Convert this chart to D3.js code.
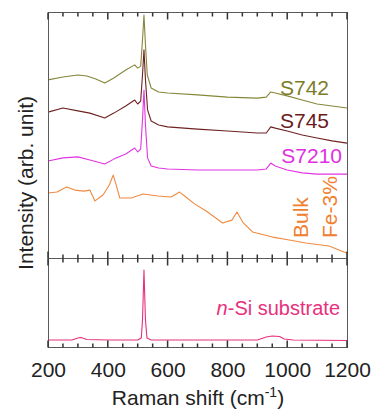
<!DOCTYPE html>
<html><head><meta charset="utf-8">
<script src="https://cdn.jsdelivr.net/npm/d3@7/dist/d3.min.js"></script>
<style>body{margin:0;background:#fff}svg{display:block;font-family:"Liberation Sans",Arial,sans-serif}</style>
</head><body><svg id="c" width="373" height="410"></svg>
<script>
// Raman shift (cm^-1) and intensity (arb. unit, offsets included)
const s742X = [200,250,300,330,360,390,420,460,490,500,510,516,521,526,532,545,570,600,700,800,900,930,945,960,1000,1050,1100,1150,1200];
const s742Y = [72.4,73.6,74.4,74.0,72.8,71.1,73.2,76.4,78.5,77.2,78.0,88.6,98.8,86.6,74.4,69.1,67.5,67.1,66.3,65.4,65.0,65.4,67.5,67.1,65.9,64.2,62.6,61.8,61.0];
const s745X = [200,250,300,340,390,420,460,490,500,510,516,521,526,533,545,570,600,700,800,900,930,945,960,1000,1050,1100,1150,1200];
const s745Y = [59.3,61.0,59.8,58.9,56.9,58.9,61.8,64.2,62.6,63.8,74.4,84.6,72.4,60.2,55.7,54.1,53.3,52.4,51.6,50.8,50.8,53.3,52.8,51.6,50.0,48.8,47.6,46.7];
const s7210X = [200,250,300,340,390,420,460,490,500,510,516,521,526,533,545,570,600,700,800,900,930,945,960,1000,1050,1100,1150,1200];
const s7210Y = [39.4,40.7,41.1,39.8,38.2,40.2,42.3,44.7,43.1,44.3,56.1,68.3,54.1,40.7,37.4,36.6,36.2,35.8,35.8,35.8,36.2,38.6,37.4,35.8,34.6,34.1,34.1,34.1];
const bulkX = [200,230,262,290,320,340,357,384,405,418,428,440,479,518,568,612,640,657,690,729,784,815,832,851,884,951,1007,1062,1140,1190,1200];
const bulkY = [26.4,26.8,28.9,27.6,27.2,27.6,23.2,25.6,29.7,33.7,29.7,24.4,24.4,26.0,25.2,24.8,26.8,25.2,22.0,19.1,14.2,15.4,18.7,14.6,10.6,8.5,7.3,6.1,4.9,2.4,2.0];
const siX = [200,280,300,310,330,400,500,512,516,521,526,531,545,900,930,950,975,990,1020,1200];
const siY = [7.9,7.9,10.1,10.7,8.4,7.9,7.9,10,30,86.5,30,10,7.9,7.9,11.2,12.4,11.8,9,7.9,7.3];
const majorTicks = [200,400,600,800,1000,1200];
const minorTicks = [250,300,350,450,500,550,650,700,750,850,900,950,1050,1100,1150];

const svg = d3.select("#c");
const L=48, R=347, T=12, MID=258, B=347;
const x = d3.scaleLinear().domain([200,1200]).range([L,R]);
const yTop = d3.scaleLinear().domain([0,100]).range([MID,T]);
const yBot = d3.scaleLinear().domain([0,100]).range([B,MID]);

const series = [
  {xs:s742X, ys:s742Y, y:yTop, c:"#86863a"},
  {xs:s745X, ys:s745Y, y:yTop, c:"#6e2222"},
  {xs:s7210X, ys:s7210Y, y:yTop, c:"#e234e2"},
  {xs:bulkX, ys:bulkY, y:yTop, c:"#f08a40"},
  {xs:siX, ys:siY, y:yBot, c:"#e8307c"}
];
series.forEach(s=>{
  const pts = s.xs.map((v,i)=>[v,s.ys[i]]);
  svg.append("path").attr("d", d3.line().x(d=>x(d[0])).y(d=>s.y(d[1]))(pts))
    .attr("fill","none").attr("stroke",s.c).attr("stroke-width",1.1).attr("stroke-linejoin","round");
});

// frame
const fc="#5a5a5a";
svg.append("rect").attr("x",L+0.5).attr("y",T+0.5).attr("width",R-L).attr("height",B-T).attr("fill","none").attr("stroke",fc);
svg.append("line").attr("x1",L).attr("x2",R).attr("y1",MID+0.5).attr("y2",MID+0.5).attr("stroke",fc);

// inward ticks on each horizontal edge
const edges = [[T,1],[MID,-1],[MID,1],[B,-1]];
edges.forEach(([yy,d])=>{
  [[majorTicks,7],[minorTicks,4]].forEach(([vals,len])=>{
    svg.append("g").selectAll("line").data(vals).join("line")
      .attr("x1",v=>x(v)).attr("x2",v=>x(v))
      .attr("y1",yy+0.5).attr("y2",yy+0.5+d*len)
      .attr("stroke","#333").attr("stroke-width",1.5);
  });
});

// tick labels
const lab = d3.axisBottom(x).tickValues(majorTicks).tickSize(0).tickPadding(0).tickFormat(d3.format("d"));
const gl = svg.append("g").attr("transform",`translate(0,${B})`).call(lab);
gl.select(".domain").remove();
gl.selectAll("text").attr("font-size",21).attr("fill","#222").attr("dy",null).attr("y",30)
  .attr("font-family","Liberation Sans, Arial, sans-serif");

// axis titles
const xt = svg.append("text").attr("x",198).attr("y",405).attr("text-anchor","middle")
  .attr("font-size",21).attr("fill","#222");
xt.append("tspan").text("Raman shift (cm");
xt.append("tspan").attr("font-size",14).attr("dy",-8).text("-1");
xt.append("tspan").attr("dy",8).text(")");
svg.append("text").attr("transform","translate(33,183) rotate(-90)").attr("text-anchor","middle")
  .attr("font-size",21).attr("fill","#222").text("Intensity (arb. unit)");

// labels
const lbl=(t,xx,yy,c)=>svg.append("text").attr("x",xx).attr("y",yy).attr("text-anchor","end").attr("font-size",21).attr("fill",c).text(t);
lbl("S742",329,95,"#7c7c28");
lbl("S745",329,128,"#6a1c1c");
lbl("S7210",342,163,"#e030e0");
svg.append("text").attr("transform","translate(308,238) rotate(-90)").attr("font-size",21).attr("fill","#f08030").text("Bulk");
svg.append("text").attr("transform","translate(337,238) rotate(-90)").attr("font-size",21).attr("fill","#f08030").text("Fe-3%");
const ns = svg.append("text").attr("x",340).attr("y",315).attr("text-anchor","end").attr("font-size",20).attr("fill","#e8307c");
ns.append("tspan").attr("font-style","italic").text("n");
ns.append("tspan").text("-Si substrate");
</script></body></html>
